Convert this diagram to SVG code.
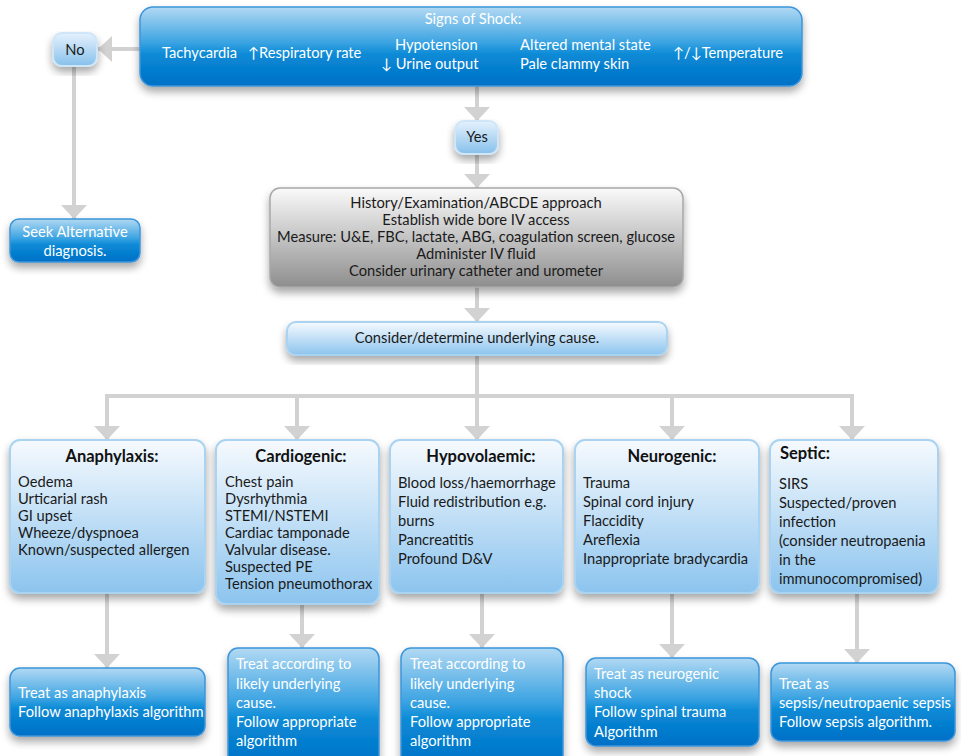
<svg xmlns="http://www.w3.org/2000/svg" width="961" height="756" viewBox="0 0 961 756">
<defs>
<linearGradient id="gDark" x1="0" y1="0" x2="0" y2="1">
<stop offset="0" stop-color="#b2d9f3"/>
<stop offset="0.45" stop-color="#3ba3e2"/>
<stop offset="0.6" stop-color="#0a8ad6"/>
<stop offset="1" stop-color="#0070c6"/>
</linearGradient>
<linearGradient id="gLight" x1="0" y1="0" x2="0" y2="1">
<stop offset="0" stop-color="#f6fafe"/>
<stop offset="1" stop-color="#8cc4ee"/>
</linearGradient>
<linearGradient id="gSmall" x1="0" y1="0" x2="0" y2="1">
<stop offset="0" stop-color="#e6f2fc"/>
<stop offset="1" stop-color="#86c0ec"/>
</linearGradient>
<linearGradient id="gGray" x1="0" y1="0" x2="0" y2="1">
<stop offset="0" stop-color="#fafafa"/>
<stop offset="1" stop-color="#8e8e8e"/>
</linearGradient>
<filter id="sh" x="-20%" y="-20%" width="140%" height="150%">
<feGaussianBlur in="SourceAlpha" stdDeviation="4"/>
<feOffset dy="5" result="b"/>
<feComponentTransfer><feFuncA type="linear" slope="0.35"/></feComponentTransfer>
<feMerge><feMergeNode/><feMergeNode in="SourceGraphic"/></feMerge>
</filter>
<marker id="ah" viewBox="0 0 14 26" refX="14" refY="13" markerWidth="14" markerHeight="26" markerUnits="userSpaceOnUse" orient="auto">
<path d="M0,0 L14,13 L0,26 z" fill="#d2d2d2"/>
</marker>
</defs>
<style>
.con{stroke:#d2d2d2;stroke-width:4;fill:none}
.dark{fill:url(#gDark);stroke:#3d95da;stroke-width:1.5;filter:url(#sh)}
.light{fill:url(#gLight);stroke:#a9d3f1;stroke-width:2;filter:url(#sh)}
.small{fill:url(#gSmall);stroke:#cfe6f8;stroke-width:2;filter:url(#sh)}
.gray{fill:url(#gGray);stroke:#a8a8a8;stroke-width:1.5;filter:url(#sh)}
text{font-family:Lato,"Liberation Sans",sans-serif;font-size:14.7px}
.w{fill:#ffffff}
.k{fill:#1a1a1a}
.h{font-weight:bold;font-size:16.5px;fill:#111}
.c{text-anchor:middle}
</style>
<rect width="961" height="756" fill="#ffffff"/>
<g id="connectors">
<line class="con" x1="140" y1="49" x2="98" y2="49" marker-end="url(#ah)"/>
<line class="con" x1="74" y1="66" x2="74" y2="219" marker-end="url(#ah)"/>
<line class="con" x1="477" y1="86" x2="477" y2="121" marker-end="url(#ah)"/>
<line class="con" x1="477" y1="154" x2="477" y2="188" marker-end="url(#ah)"/>
<line class="con" x1="477" y1="287" x2="477" y2="322" marker-end="url(#ah)"/>
<line class="con" x1="477" y1="355" x2="477" y2="396"/>
<line class="con" x1="105" y1="396" x2="854" y2="396"/>
<line class="con" x1="107" y1="394" x2="107" y2="440" marker-end="url(#ah)"/>
<line class="con" x1="297" y1="394" x2="297" y2="440" marker-end="url(#ah)"/>
<line class="con" x1="477" y1="394" x2="477" y2="440" marker-end="url(#ah)"/>
<line class="con" x1="672" y1="394" x2="672" y2="440" marker-end="url(#ah)"/>
<line class="con" x1="852" y1="394" x2="852" y2="440" marker-end="url(#ah)"/>
<line class="con" x1="107" y1="593" x2="107" y2="668" marker-end="url(#ah)"/>
<line class="con" x1="302" y1="604" x2="302" y2="648" marker-end="url(#ah)"/>
<line class="con" x1="482" y1="593" x2="482" y2="648" marker-end="url(#ah)"/>
<line class="con" x1="672" y1="593" x2="672" y2="658" marker-end="url(#ah)"/>
<line class="con" x1="857" y1="593" x2="857" y2="663" marker-end="url(#ah)"/>
</g>
<g id="signs">
<rect class="dark" x="140" y="7" width="662" height="79" rx="13"/>
<text class="w c" x="473" y="24">Signs of Shock:</text>
<text class="w" x="162" y="58">Tachycardia</text>
<text class="w" x="248" y="58">↑Respiratory rate</text>
<text class="w" x="395" y="50">Hypotension</text>
<text class="w" x="381" y="69">↓ Urine output</text>
<text class="w" x="520" y="50">Altered mental state</text>
<text class="w" x="520" y="69">Pale clammy skin</text>
<text class="w" x="673" y="58">↑/↓Temperature</text>
</g>
<g id="no">
<rect class="small" x="53" y="33" width="44" height="33" rx="9"/>
<text class="k c" x="75" y="55">No</text>
</g>
<g id="seek">
<rect class="dark" x="10" y="219" width="130" height="43" rx="9"/>
<text class="w c" x="75" y="237">Seek Alternative</text>
<text class="w c" x="75" y="256">diagnosis.</text>
</g>
<g id="yes">
<rect class="small" x="455" y="121" width="43" height="33" rx="9"/>
<text class="k c" x="477" y="142">Yes</text>
</g>
<g id="assess">
<rect class="gray" x="270" y="188" width="413" height="99" rx="10"/>
<text class="k c" x="476" y="208">History/Examination/ABCDE approach</text>
<text class="k c" x="476" y="225">Establish wide bore IV access</text>
<text class="k c" x="476" y="242">Measure: U&amp;E, FBC, lactate, ABG, coagulation screen, glucose</text>
<text class="k c" x="476" y="259">Administer IV fluid</text>
<text class="k c" x="476" y="276">Consider urinary catheter and urometer</text>
</g>
<g id="consider">
<rect class="light" x="287" y="322" width="380" height="33" rx="9"/>
<text class="k c" x="477" y="343">Consider/determine underlying cause.</text>
</g>
<g id="anaphylaxis">
<rect class="light" x="10" y="440" width="195" height="153" rx="10"/>
<text class="h c" x="112" y="462">Anaphylaxis:</text>
<text class="k" x="18" y="487">Oedema</text>
<text class="k" x="18" y="504">Urticarial rash</text>
<text class="k" x="18" y="521">GI upset</text>
<text class="k" x="18" y="538">Wheeze/dyspnoea</text>
<text class="k" x="18" y="555">Known/suspected allergen</text>
</g>
<g id="cardiogenic">
<rect class="light" x="216" y="440" width="163" height="164" rx="10"/>
<text class="h c" x="301" y="462">Cardiogenic:</text>
<text class="k" x="225" y="487">Chest pain</text>
<text class="k" x="225" y="504">Dysrhythmia</text>
<text class="k" x="225" y="521">STEMI/NSTEMI</text>
<text class="k" x="225" y="538">Cardiac tamponade</text>
<text class="k" x="225" y="555">Valvular disease.</text>
<text class="k" x="225" y="572">Suspected PE</text>
<text class="k" x="225" y="589">Tension pneumothorax</text>
</g>
<g id="hypovolaemic">
<rect class="light" x="390" y="440" width="173" height="153" rx="10"/>
<text class="h c" x="481" y="462">Hypovolaemic:</text>
<text class="k" x="398" y="488">Blood loss/haemorrhage</text>
<text class="k" x="398" y="507">Fluid redistribution e.g.</text>
<text class="k" x="398" y="526">burns</text>
<text class="k" x="398" y="545">Pancreatitis</text>
<text class="k" x="398" y="564">Profound D&amp;V</text>
</g>
<g id="neurogenic">
<rect class="light" x="575" y="440" width="184" height="153" rx="10"/>
<text class="h c" x="672" y="462">Neurogenic:</text>
<text class="k" x="583" y="488">Trauma</text>
<text class="k" x="583" y="507">Spinal cord injury</text>
<text class="k" x="583" y="526">Flaccidity</text>
<text class="k" x="583" y="545">Areflexia</text>
<text class="k" x="583" y="564">Inappropriate bradycardia</text>
</g>
<g id="septic">
<rect class="light" x="770" y="440" width="168" height="153" rx="10"/>
<text class="h" x="780" y="459">Septic:</text>
<text class="k" x="779" y="489">SIRS</text>
<text class="k" x="779" y="508">Suspected/proven</text>
<text class="k" x="779" y="527">infection</text>
<text class="k" x="779" y="546">(consider neutropaenia</text>
<text class="k" x="779" y="565">in the</text>
<text class="k" x="779" y="584">immunocompromised)</text>
</g>
<g id="treat-anaphylaxis">
<rect class="dark" x="10" y="668" width="195" height="68" rx="10"/>
<text class="w" x="18" y="698">Treat as anaphylaxis</text>
<text class="w" x="18" y="717">Follow anaphylaxis algorithm</text>
</g>
<g id="treat-cardiogenic">
<rect class="dark" x="228" y="648" width="151" height="120" rx="10"/>
<text class="w" x="236" y="669">Treat according to</text>
<text class="w" x="236" y="689">likely underlying</text>
<text class="w" x="236" y="708">cause.</text>
<text class="w" x="236" y="727">Follow appropriate</text>
<text class="w" x="236" y="746">algorithm</text>
</g>
<g id="treat-hypovolaemic">
<rect class="dark" x="401" y="648" width="162" height="120" rx="10"/>
<text class="w" x="410" y="669">Treat according to</text>
<text class="w" x="410" y="689">likely underlying</text>
<text class="w" x="410" y="708">cause.</text>
<text class="w" x="410" y="727">Follow appropriate</text>
<text class="w" x="410" y="746">algorithm</text>
</g>
<g id="treat-neurogenic">
<rect class="dark" x="586" y="658" width="173" height="88" rx="10"/>
<text class="w" x="594" y="679">Treat as neurogenic</text>
<text class="w" x="594" y="698">shock</text>
<text class="w" x="594" y="717">Follow spinal trauma</text>
<text class="w" x="594" y="737">Algorithm</text>
</g>
<g id="treat-septic">
<rect class="dark" x="771" y="663" width="184" height="78" rx="10"/>
<text class="w" x="779" y="689">Treat as</text>
<text class="w" x="779" y="708">sepsis/neutropaenic sepsis</text>
<text class="w" x="779" y="727">Follow sepsis algorithm.</text>
</g>
</svg>
